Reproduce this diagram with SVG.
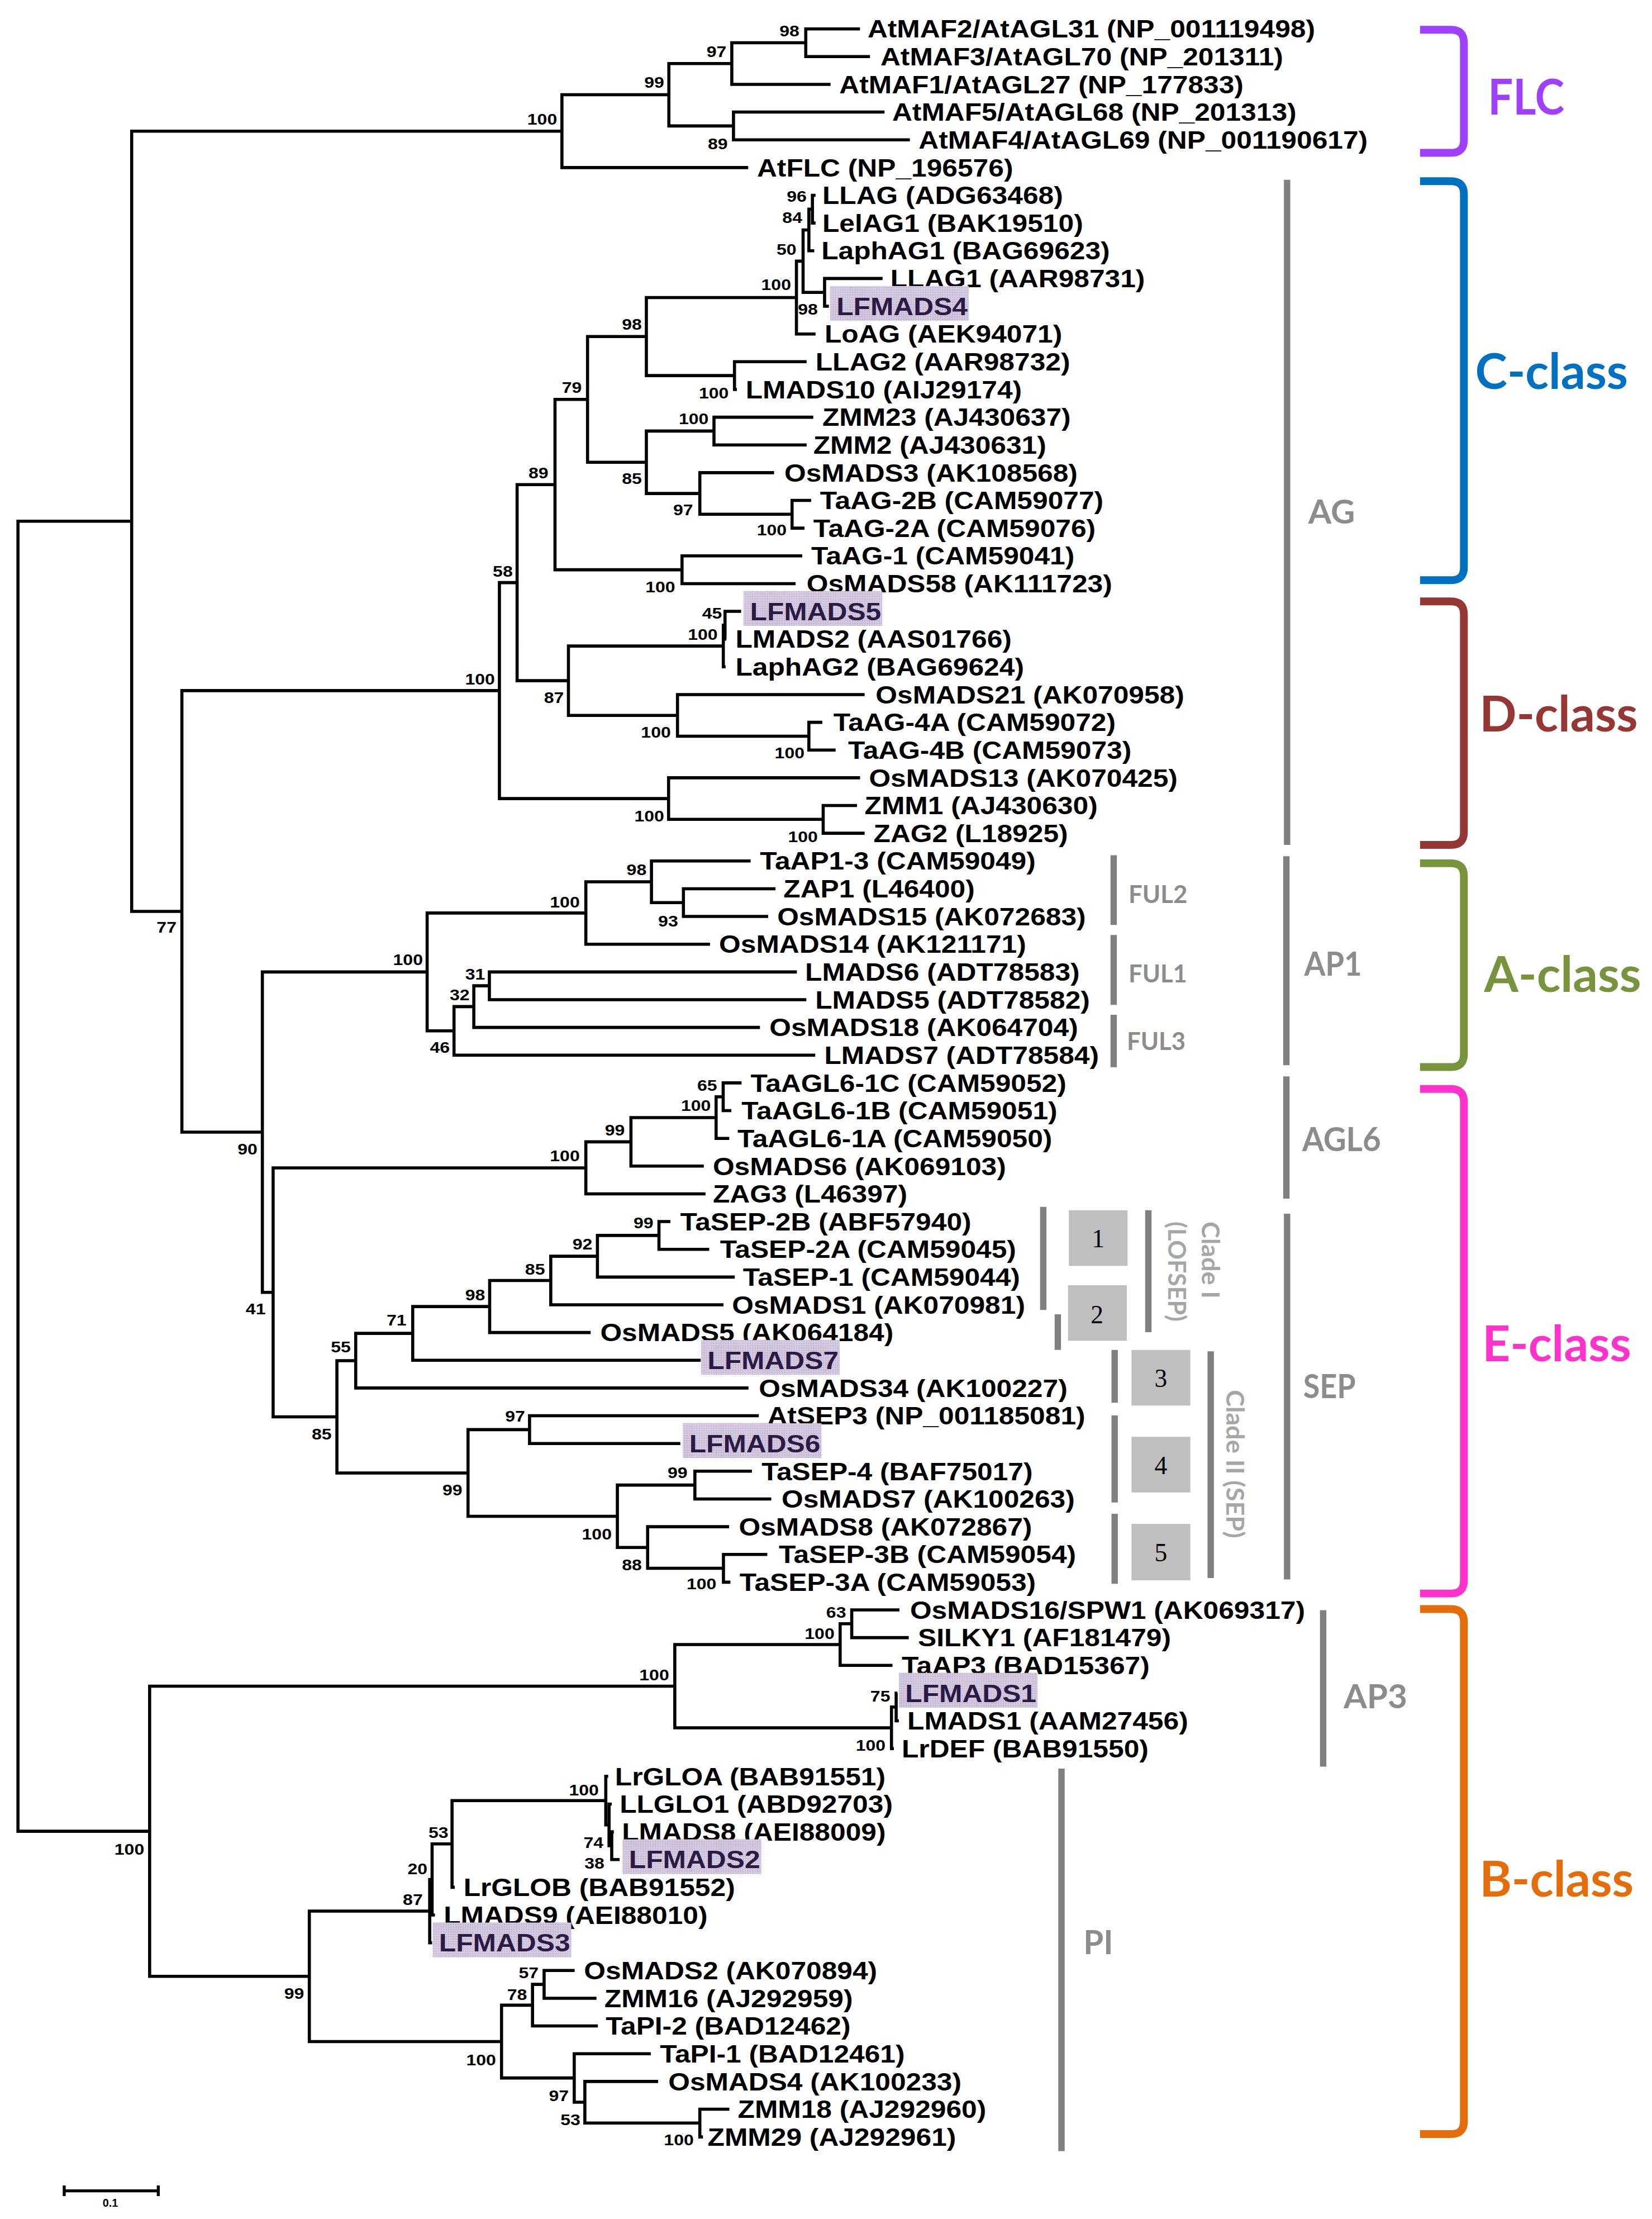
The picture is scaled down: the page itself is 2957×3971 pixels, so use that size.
<svg xmlns="http://www.w3.org/2000/svg" width="2957" height="3971" viewBox="0 0 2957 3971">
<defs>
<pattern id="dots" width="1.2" height="1.2" patternUnits="userSpaceOnUse"><rect width="1.2" height="1.2" fill="#ddd3e8"/><rect width="0.6" height="0.6" fill="#ab9bc0"/></pattern>
</defs>
<style>
.br{fill:none;stroke:#000;stroke-width:2.2;stroke-linejoin:miter;stroke-linecap:butt}
.lf{font-family:"Liberation Sans",Arial,sans-serif;font-weight:bold;font-size:17.3px;fill:#000}
.hl{fill:#2b1a45}
.hb{fill:url(#dots)}
.bs{font-family:"Liberation Sans",Arial,sans-serif;font-weight:bold;font-size:11px;fill:#000;text-anchor:end}
.gbar{stroke:#808080;stroke-width:4.5;fill:none}
.gl{font-family:Lato,"Open Sans",sans-serif;font-weight:bold;fill:#8c8c8c}
.cl{font-family:Lato,"Open Sans",sans-serif;font-weight:bold;fill:#a6a6a6;font-size:17.5px}
.box{fill:#bfbfbf}
.num{font-family:"Liberation Serif","Times New Roman",serif;font-size:18px;fill:#000;text-anchor:middle}
.brk{fill:none;stroke-width:5.5;stroke-linecap:butt}
.cls{font-family:Lato,"Open Sans",sans-serif;font-weight:bold;font-size:35px}
</style>
<g transform="scale(2.53168 2.53253)">
<g id="connectors">
<path class="br" d="M608 20.4H569.7V40H615.1M569.7 30.2H517.4V59.6H587.2M625.4 79.2H518.6V98.8H643.3M517.4 44.9H472.9V89H518.6M472.9 66.95H397.3V118.4H529"/>
<path class="br" d="M576.6 138H574.4V157.6H576.6M574.4 147.8H571.9V177.2H575.7M624 196.8H583V216.4H586M571.9 162.5H567.8V206.6H583M567.8 184.55H563.1V236H576.6M570.3 255.6H519.3V275.2H521M563.1 210.28H457V265.4H519.3M575 294.8H504.8V314.4H570.3M573.5 353.6H560V373.2H568.8M547.3 334H494.8V363.4H560M504.8 304.6H457V348.7H494.8M457 237.84H415.4V326.65H457M567.2 392.8H482.2V412.4H562.5M415.4 282.25H392.4V402.6H482.2"/>
<path class="br" d="M524 432H512.6V451.6H513.5M512.6 441.8H511.4V471.2H513M581.4 510.4H571.9V530H590.8M611.3 490.8H479V520.2H571.9M511.4 456.5H401.9V505.5H479M392.4 342.43H365.6V481H401.9M605.9 569.2H582V588.8H611.3M608.1 549.6H472.7V579H582M365.6 411.7H353.1V564.3H472.7"/>
<path class="br" d="M548.3 628H483.2V647.6H543.1M530.7 608.4H460.6V637.8H483.2M460.6 623.1H414.2V667.2H502M563.4 686.8H346V706.4H570.1M346 696.6H335V726H537.3M335 711.3H321V745.6H576.4M414.2 645.15H302V728.45H321"/>
<path class="br" d="M524.3 765.2H511.3V784.8H517.1M511.3 775H506.3V804.4H515.6M506.3 789.7H446.1V824H497.6M446.1 806.85H414.2V843.6H498.8"/>
<path class="br" d="M474 863.2H465.9V882.8H501.4M465.9 873H422.4V902.4H519.5M422.4 887.7H389.4V922H511.5M389.4 904.85H346.2V941.6H417.6M346.2 923.23H291.8V961.2H495.4M291.8 942.2H251.5V980.8H529.2M536.5 1000.4H374.4V1020H481M531.6 1039.6H491.3V1059.2H545.3M542.5 1098.4H511.5V1118H516.4M515.5 1078.8H457.9V1108.2H511.5M491.3 1049.4H436.5V1093.5H457.9M374.4 1010.2H330.9V1071.45H436.5M251.5 961.5H238.2V1040.83H330.9M414.2 825.23H193.1V1001.17H238.2M302 686.8H185.5V913.2H193.1M353.1 488H128.6V800H185.5M397.3 92.68H93.1V644H128.6"/>
<path class="br" d="M635.9 1137.6H602.2V1157.2H642.5M602.2 1147.4H594V1176.8H631M634.5 1196.4H633.6V1216H635.5M633.6 1206.2H630.3V1235.6H632M594 1162.1H477.1V1220.9H630.3"/>
<path class="br" d="M434 1294.4H432.5V1314H438.1M432.5 1274.8H430.6V1304.2H432.5M430 1255.2H428.3V1289.5H430.6M428.3 1272.35H319.6V1333.6H321.5M319.6 1302.98H305.5V1353.2H307.5M305.5 1328.09H303.8V1372.8H305.5M406.3 1392.4H384.7V1412H421.7M384.7 1402.2H376.5V1431.6H422.7M515.7 1490.4H494.8V1510H497M465.3 1470.8H413.5V1500.2H494.8M460.1 1451.2H406V1485.5H413.5M376.5 1416.9H354.6V1468.35H406M303.8 1350.45H218.7V1442.63H354.6M477.1 1191.5H105.8V1396.54H218.7M93.1 368.34H12.7V1294H105.8"/>
</g>
<g id="support-values">
<text class="bs" transform="translate(393.9 88.2) scale(1.15 1)">100</text>
<text class="bs" transform="translate(469.6 61.9) scale(1.15 1)">99</text>
<text class="bs" transform="translate(513.6 40.2) scale(1.15 1)">97</text>
<text class="bs" transform="translate(565.2 25.7) scale(1.15 1)">98</text>
<text class="bs" transform="translate(514.5 105.3) scale(1.15 1)">89</text>
<text class="bs" transform="translate(570.3 142.6) scale(1.15 1)">96</text>
<text class="bs" transform="translate(567.2 157.7) scale(1.15 1)">84</text>
<text class="bs" transform="translate(563.1 179.9) scale(1.15 1)">50</text>
<text class="bs" transform="translate(559.3 205.1) scale(1.15 1)">100</text>
<text class="bs" transform="translate(578.2 222.2) scale(1.15 1)">98</text>
<text class="bs" transform="translate(453.8 232.9) scale(1.15 1)">98</text>
<text class="bs" transform="translate(515.2 281.6) scale(1.15 1)">100</text>
<text class="bs" transform="translate(411.3 277.6) scale(1.15 1)">79</text>
<text class="bs" transform="translate(501 299.7) scale(1.15 1)">100</text>
<text class="bs" transform="translate(453.8 342) scale(1.15 1)">85</text>
<text class="bs" transform="translate(490 364.2) scale(1.15 1)">97</text>
<text class="bs" transform="translate(556.2 378.3) scale(1.15 1)">100</text>
<text class="bs" transform="translate(387.7 338) scale(1.15 1)">89</text>
<text class="bs" transform="translate(477.4 418.6) scale(1.15 1)">100</text>
<text class="bs" transform="translate(362.5 407.5) scale(1.15 1)">58</text>
<text class="bs" transform="translate(510.5 437) scale(1.15 1)">45</text>
<text class="bs" transform="translate(507.4 452.2) scale(1.15 1)">100</text>
<text class="bs" transform="translate(398.7 496.9) scale(1.15 1)">87</text>
<text class="bs" transform="translate(474.3 521.3) scale(1.15 1)">100</text>
<text class="bs" transform="translate(568.8 535.7) scale(1.15 1)">100</text>
<text class="bs" transform="translate(349.9 483.8) scale(1.15 1)">100</text>
<text class="bs" transform="translate(469.6 580.5) scale(1.15 1)">100</text>
<text class="bs" transform="translate(578.2 595) scale(1.15 1)">100</text>
<text class="bs" transform="translate(124.8 659) scale(1.15 1)">77</text>
<text class="bs" transform="translate(182 815.7) scale(1.15 1)">90</text>
<text class="bs" transform="translate(187.8 928.6) scale(1.15 1)">41</text>
<text class="bs" transform="translate(234.5 1017) scale(1.15 1)">85</text>
<text class="bs" transform="translate(248 955.6) scale(1.15 1)">55</text>
<text class="bs" transform="translate(102 1310.7) scale(1.15 1)">100</text>
<text class="bs" transform="translate(215 1412.3) scale(1.15 1)">99</text>
<text class="bs" transform="translate(409.9 641.3) scale(1.15 1)">100</text>
<text class="bs" transform="translate(457.1 618.4) scale(1.15 1)">98</text>
<text class="bs" transform="translate(479.4 654.5) scale(1.15 1)">93</text>
<text class="bs" transform="translate(299 682) scale(1.15 1)">100</text>
<text class="bs" transform="translate(343 692) scale(1.15 1)">31</text>
<text class="bs" transform="translate(332 707) scale(1.15 1)">32</text>
<text class="bs" transform="translate(318 744) scale(1.15 1)">46</text>
<text class="bs" transform="translate(409.9 820.7) scale(1.15 1)">100</text>
<text class="bs" transform="translate(441.7 802.2) scale(1.15 1)">99</text>
<text class="bs" transform="translate(502.6 785) scale(1.15 1)">100</text>
<text class="bs" transform="translate(507 770.8) scale(1.15 1)">65</text>
<text class="bs" transform="translate(462 868) scale(1.15 1)">99</text>
<text class="bs" transform="translate(418.8 883) scale(1.15 1)">92</text>
<text class="bs" transform="translate(385.3 900.6) scale(1.15 1)">85</text>
<text class="bs" transform="translate(343 918.8) scale(1.15 1)">98</text>
<text class="bs" transform="translate(287.4 936.7) scale(1.15 1)">71</text>
<text class="bs" transform="translate(371.2 1004.6) scale(1.15 1)">97</text>
<text class="bs" transform="translate(486.1 1044.3) scale(1.15 1)">99</text>
<text class="bs" transform="translate(326.9 1056.6) scale(1.15 1)">99</text>
<text class="bs" transform="translate(432.5 1088) scale(1.15 1)">100</text>
<text class="bs" transform="translate(453.8 1109.5) scale(1.15 1)">88</text>
<text class="bs" transform="translate(506.5 1122.8) scale(1.15 1)">100</text>
<text class="bs" transform="translate(473.1 1187.3) scale(1.15 1)">100</text>
<text class="bs" transform="translate(590 1158.3) scale(1.15 1)">100</text>
<text class="bs" transform="translate(598.2 1143.2) scale(1.15 1)">63</text>
<text class="bs" transform="translate(629.4 1202.4) scale(1.15 1)">75</text>
<text class="bs" transform="translate(626.1 1237.3) scale(1.15 1)">100</text>
<text class="bs" transform="translate(423.4 1268.6) scale(1.15 1)">100</text>
<text class="bs" transform="translate(426.6 1306) scale(1.15 1)">74</text>
<text class="bs" transform="translate(427.3 1320.5) scale(1.15 1)">38</text>
<text class="bs" transform="translate(317 1298.8) scale(1.15 1)">53</text>
<text class="bs" transform="translate(302.2 1324.3) scale(1.15 1)">20</text>
<text class="bs" transform="translate(298.9 1346) scale(1.15 1)">87</text>
<text class="bs" transform="translate(380.8 1398) scale(1.15 1)">57</text>
<text class="bs" transform="translate(372.6 1413.1) scale(1.15 1)">78</text>
<text class="bs" transform="translate(350.7 1459.3) scale(1.15 1)">100</text>
<text class="bs" transform="translate(402.1 1484.8) scale(1.15 1)">97</text>
<text class="bs" transform="translate(410.3 1501.8) scale(1.15 1)">53</text>
<text class="bs" transform="translate(490.5 1516) scale(1.15 1)">100</text>
</g>
<g id="leaves">
<g id="leaf-AtMAF2"><text class="lf" transform="translate(613.4 26.6) scale(1.135 1)">AtMAF2/AtAGL31 (NP_001119498)</text></g>
<g id="leaf-AtMAF3"><text class="lf" transform="translate(622.5 46.2) scale(1.135 1)">AtMAF3/AtAGL70 (NP_201311)</text></g>
<g id="leaf-AtMAF1"><text class="lf" transform="translate(593.4 65.8) scale(1.135 1)">AtMAF1/AtAGL27 (NP_177833)</text></g>
<g id="leaf-AtMAF5"><text class="lf" transform="translate(630.8 85.4) scale(1.135 1)">AtMAF5/AtAGL68 (NP_201313)</text></g>
<g id="leaf-AtMAF4"><text class="lf" transform="translate(649.5 105) scale(1.135 1)">AtMAF4/AtAGL69 (NP_001190617)</text></g>
<g id="leaf-AtFLC"><text class="lf" transform="translate(535.2 124.6) scale(1.135 1)">AtFLC (NP_196576)</text></g>
<g id="leaf-LLAG"><text class="lf" transform="translate(581.4 144.2) scale(1.135 1)">LLAG (ADG63468)</text></g>
<g id="leaf-LelAG1"><text class="lf" transform="translate(581.4 163.8) scale(1.135 1)">LelAG1 (BAK19510)</text></g>
<g id="leaf-LaphAG1"><text class="lf" transform="translate(580.7 183.4) scale(1.135 1)">LaphAG1 (BAG69623)</text></g>
<g id="leaf-LLAG1"><text class="lf" transform="translate(629.5 203) scale(1.135 1)">LLAG1 (AAR98731)</text></g>
<g id="leaf-LFMADS4"><rect class="hb" x="586.9" y="202.1" width="98" height="24.5"/><text class="lf hl" transform="translate(591.4 222.6) scale(1.135 1)">LFMADS4</text></g>
<g id="leaf-LoAG"><text class="lf" transform="translate(583 242.2) scale(1.135 1)">LoAG (AEK94071)</text></g>
<g id="leaf-LLAG2"><text class="lf" transform="translate(576.6 261.8) scale(1.135 1)">LLAG2 (AAR98732)</text></g>
<g id="leaf-LMADS10"><text class="lf" transform="translate(527.2 281.4) scale(1.135 1)">LMADS10 (AIJ29174)</text></g>
<g id="leaf-ZMM23"><text class="lf" transform="translate(581.4 301) scale(1.135 1)">ZMM23 (AJ430637)</text></g>
<g id="leaf-ZMM2"><text class="lf" transform="translate(575 320.6) scale(1.135 1)">ZMM2 (AJ430631)</text></g>
<g id="leaf-OsMADS3"><text class="lf" transform="translate(554.6 340.2) scale(1.135 1)">OsMADS3 (AK108568)</text></g>
<g id="leaf-TaAG-2B"><text class="lf" transform="translate(579.8 359.8) scale(1.135 1)">TaAG-2B (CAM59077)</text></g>
<g id="leaf-TaAG-2A"><text class="lf" transform="translate(575 379.4) scale(1.135 1)">TaAG-2A (CAM59076)</text></g>
<g id="leaf-TaAG-1"><text class="lf" transform="translate(573.5 399) scale(1.135 1)">TaAG-1 (CAM59041)</text></g>
<g id="leaf-OsMADS58"><text class="lf" transform="translate(570.3 418.6) scale(1.135 1)">OsMADS58 (AK111723)</text></g>
<g id="leaf-LFMADS5"><rect class="hb" x="525.8" y="417.7" width="98" height="24.5"/><text class="lf hl" transform="translate(530.3 438.2) scale(1.135 1)">LFMADS5</text></g>
<g id="leaf-LMADS2"><text class="lf" transform="translate(520 457.8) scale(1.135 1)">LMADS2 (AAS01766)</text></g>
<g id="leaf-LaphAG2"><text class="lf" transform="translate(520 477.4) scale(1.135 1)">LaphAG2 (BAG69624)</text></g>
<g id="leaf-OsMADS21"><text class="lf" transform="translate(619.1 497) scale(1.135 1)">OsMADS21 (AK070958)</text></g>
<g id="leaf-TaAG-4A"><text class="lf" transform="translate(589.2 516.6) scale(1.135 1)">TaAG-4A (CAM59072)</text></g>
<g id="leaf-TaAG-4B"><text class="lf" transform="translate(599.6 536.2) scale(1.135 1)">TaAG-4B (CAM59073)</text></g>
<g id="leaf-OsMADS13"><text class="lf" transform="translate(614.4 555.8) scale(1.135 1)">OsMADS13 (AK070425)</text></g>
<g id="leaf-ZMM1"><text class="lf" transform="translate(611.3 575.4) scale(1.135 1)">ZMM1 (AJ430630)</text></g>
<g id="leaf-ZAG2"><text class="lf" transform="translate(617.6 595) scale(1.135 1)">ZAG2 (L18925)</text></g>
<g id="leaf-TaAP1-3"><text class="lf" transform="translate(537.3 614.6) scale(1.135 1)">TaAP1-3 (CAM59049)</text></g>
<g id="leaf-ZAP1"><text class="lf" transform="translate(553.9 634.2) scale(1.135 1)">ZAP1 (L46400)</text></g>
<g id="leaf-OsMADS15"><text class="lf" transform="translate(549.5 653.8) scale(1.135 1)">OsMADS15 (AK072683)</text></g>
<g id="leaf-OsMADS14"><text class="lf" transform="translate(508.4 673.4) scale(1.135 1)">OsMADS14 (AK121171)</text></g>
<g id="leaf-LMADS6"><text class="lf" transform="translate(569.2 693) scale(1.135 1)">LMADS6 (ADT78583)</text></g>
<g id="leaf-LMADS5"><text class="lf" transform="translate(576.4 712.6) scale(1.135 1)">LMADS5 (ADT78582)</text></g>
<g id="leaf-OsMADS18"><text class="lf" transform="translate(544 732.2) scale(1.135 1)">OsMADS18 (AK064704)</text></g>
<g id="leaf-LMADS7"><text class="lf" transform="translate(582.8 751.8) scale(1.135 1)">LMADS7 (ADT78584)</text></g>
<g id="leaf-TaAGL6-1C"><text class="lf" transform="translate(530.7 771.4) scale(1.135 1)">TaAGL6-1C (CAM59052)</text></g>
<g id="leaf-TaAGL6-1B"><text class="lf" transform="translate(524.3 791) scale(1.135 1)">TaAGL6-1B (CAM59051)</text></g>
<g id="leaf-TaAGL6-1A"><text class="lf" transform="translate(521.4 810.6) scale(1.135 1)">TaAGL6-1A (CAM59050)</text></g>
<g id="leaf-OsMADS6"><text class="lf" transform="translate(504 830.2) scale(1.135 1)">OsMADS6 (AK069103)</text></g>
<g id="leaf-ZAG3"><text class="lf" transform="translate(504 849.8) scale(1.135 1)">ZAG3 (L46397)</text></g>
<g id="leaf-TaSEP-2B"><text class="lf" transform="translate(480.9 869.4) scale(1.135 1)">TaSEP-2B (ABF57940)</text></g>
<g id="leaf-TaSEP-2A"><text class="lf" transform="translate(509 889) scale(1.135 1)">TaSEP-2A (CAM59045)</text></g>
<g id="leaf-TaSEP-1"><text class="lf" transform="translate(525.2 908.6) scale(1.135 1)">TaSEP-1 (CAM59044)</text></g>
<g id="leaf-OsMADS1"><text class="lf" transform="translate(517.5 928.2) scale(1.135 1)">OsMADS1 (AK070981)</text></g>
<g id="leaf-OsMADS5"><text class="lf" transform="translate(424.4 947.8) scale(1.135 1)">OsMADS5 (AK064184)</text></g>
<g id="leaf-LFMADS7"><rect class="hb" x="495.7" y="946.9" width="98" height="24.5"/><text class="lf hl" transform="translate(500.2 967.4) scale(1.135 1)">LFMADS7</text></g>
<g id="leaf-OsMADS34"><text class="lf" transform="translate(536.5 987) scale(1.135 1)">OsMADS34 (AK100227)</text></g>
<g id="leaf-AtSEP3"><text class="lf" transform="translate(542.5 1006.6) scale(1.135 1)">AtSEP3 (NP_001185081)</text></g>
<g id="leaf-LFMADS6"><rect class="hb" x="482.8" y="1005.7" width="98" height="24.5"/><text class="lf hl" transform="translate(487.3 1026.2) scale(1.135 1)">LFMADS6</text></g>
<g id="leaf-TaSEP-4"><text class="lf" transform="translate(538.5 1045.8) scale(1.135 1)">TaSEP-4 (BAF75017)</text></g>
<g id="leaf-OsMADS7"><text class="lf" transform="translate(552.6 1065.4) scale(1.135 1)">OsMADS7 (AK100263)</text></g>
<g id="leaf-OsMADS8"><text class="lf" transform="translate(522.4 1085) scale(1.135 1)">OsMADS8 (AK072867)</text></g>
<g id="leaf-TaSEP-3B"><text class="lf" transform="translate(550.6 1104.6) scale(1.135 1)">TaSEP-3B (CAM59054)</text></g>
<g id="leaf-TaSEP-3A"><text class="lf" transform="translate(522.9 1124.2) scale(1.135 1)">TaSEP-3A (CAM59053)</text></g>
<g id="leaf-OsMADS16"><text class="lf" transform="translate(643.4 1143.8) scale(1.135 1)">OsMADS16/SPW1 (AK069317)</text></g>
<g id="leaf-SILKY1"><text class="lf" transform="translate(649 1163.4) scale(1.135 1)">SILKY1 (AF181479)</text></g>
<g id="leaf-TaAP3"><text class="lf" transform="translate(637.5 1183) scale(1.135 1)">TaAP3 (BAD15367)</text></g>
<g id="leaf-LFMADS1"><rect class="hb" x="635.5" y="1182.1" width="98" height="24.5"/><text class="lf hl" transform="translate(640 1202.6) scale(1.135 1)">LFMADS1</text></g>
<g id="leaf-LMADS1"><text class="lf" transform="translate(641.5 1222.2) scale(1.135 1)">LMADS1 (AAM27456)</text></g>
<g id="leaf-LrDEF"><text class="lf" transform="translate(637.5 1241.8) scale(1.135 1)">LrDEF (BAB91550)</text></g>
<g id="leaf-LrGLOA"><text class="lf" transform="translate(434.8 1261.4) scale(1.135 1)">LrGLOA (BAB91551)</text></g>
<g id="leaf-LLGLO1"><text class="lf" transform="translate(438.1 1281) scale(1.135 1)">LLGLO1 (ABD92703)</text></g>
<g id="leaf-LMADS8"><text class="lf" transform="translate(439.7 1300.6) scale(1.135 1)">LMADS8 (AEI88009)</text></g>
<g id="leaf-LFMADS2"><rect class="hb" x="440.2" y="1299.7" width="98" height="24.5"/><text class="lf hl" transform="translate(444.7 1320.2) scale(1.135 1)">LFMADS2</text></g>
<g id="leaf-LrGLOB"><text class="lf" transform="translate(327.7 1339.8) scale(1.135 1)">LrGLOB (BAB91552)</text></g>
<g id="leaf-LMADS9"><text class="lf" transform="translate(313.7 1359.4) scale(1.135 1)">LMADS9 (AEI88010)</text></g>
<g id="leaf-LFMADS3"><rect class="hb" x="305.9" y="1358.5" width="98" height="24.5"/><text class="lf hl" transform="translate(310.4 1379) scale(1.135 1)">LFMADS3</text></g>
<g id="leaf-OsMADS2"><text class="lf" transform="translate(412.9 1398.6) scale(1.135 1)">OsMADS2 (AK070894)</text></g>
<g id="leaf-ZMM16"><text class="lf" transform="translate(427.3 1418.2) scale(1.135 1)">ZMM16 (AJ292959)</text></g>
<g id="leaf-TaPI-2"><text class="lf" transform="translate(428.3 1437.8) scale(1.135 1)">TaPI-2 (BAD12462)</text></g>
<g id="leaf-TaPI-1"><text class="lf" transform="translate(466.6 1457.4) scale(1.135 1)">TaPI-1 (BAD12461)</text></g>
<g id="leaf-OsMADS4"><text class="lf" transform="translate(472.5 1477) scale(1.135 1)">OsMADS4 (AK100233)</text></g>
<g id="leaf-ZMM18"><text class="lf" transform="translate(521.6 1496.6) scale(1.135 1)">ZMM18 (AJ292960)</text></g>
<g id="leaf-ZMM29"><text class="lf" transform="translate(500.3 1516.2) scale(1.135 1)">ZMM29 (AJ292961)</text></g>
</g>
<g id="subgroups">
<path class="gbar" d="M910 127V597M909.5 605V752.7M909.5 760.6V847M910 857.6V1116.1M787.4 604.3V653.6M787.4 660.7V710.1M787.4 717.1V754.1M737.6 852.8V925.7M747.9 928.7V953.9M811.9 855.2V941.4M788.1 953.9V991.2M788.1 1000.2V1061.7M788.1 1069.7V1119.1M856 954.9V1115.1M935.5 1137.8V1248.4M750.5 1249.7V1520"/>
<text class="gl" x="925" y="370" font-size="23.3" textLength="33" lengthAdjust="spacingAndGlyphs">AG</text>
<text class="gl" x="922.1" y="689.3" font-size="23.3" textLength="40.8" lengthAdjust="spacingAndGlyphs">AP1</text>
<text class="gl" x="920.6" y="813.5" font-size="23.3" textLength="55.7" lengthAdjust="spacingAndGlyphs">AGL6</text>
<text class="gl" x="921.4" y="988.1" font-size="23.3" textLength="37.1" lengthAdjust="spacingAndGlyphs">SEP</text>
<text class="gl" x="950" y="1207" font-size="23.3" textLength="45" lengthAdjust="spacingAndGlyphs">AP3</text>
<text class="gl" x="766" y="1381" font-size="23.3" textLength="21" lengthAdjust="spacingAndGlyphs">PI</text>
<text class="gl" x="797.9" y="638.1" font-size="17.5" textLength="41.6" lengthAdjust="spacingAndGlyphs">FUL2</text>
<text class="gl" x="797.9" y="694.2" font-size="17.5" textLength="41.4" lengthAdjust="spacingAndGlyphs">FUL1</text>
<text class="gl" x="796.7" y="741.8" font-size="17.5" textLength="41.5" lengthAdjust="spacingAndGlyphs">FUL3</text>
<rect class="box" x="755.7" y="855.2" width="41.5" height="39.3"/>
<rect class="box" x="755.1" y="908.2" width="41.6" height="39.2"/>
<rect class="box" x="800" y="953.9" width="41.6" height="39.3"/>
<rect class="box" x="800" y="1015.3" width="41.6" height="39.3"/>
<rect class="box" x="800" y="1076.8" width="41.6" height="39.9"/>
<text class="num" x="776.4" y="881.5">1</text>
<text class="num" x="775.6" y="934.9">2</text>
<text class="num" x="820.8" y="980.2">3</text>
<text class="num" x="820.8" y="1041.7">4</text>
<text class="num" x="820.8" y="1103.2">5</text>
<text class="cl" transform="translate(849.5 863.2) rotate(90)" textLength="54.4" lengthAdjust="spacingAndGlyphs">Clade I</text>
<text class="cl" transform="translate(826 863.2) rotate(90)" textLength="70.6" lengthAdjust="spacingAndGlyphs">(LOFSEP)</text>
<text class="cl" transform="translate(867 982.1) rotate(90)" textLength="104.8" lengthAdjust="spacingAndGlyphs">Clade II (SEP)</text>
</g>
<g id="classes">
<path class="brk" stroke="#a040ff" d="M1004 21H1026Q1035 21 1035 30V99Q1035 108 1026 108H1004"/>
<path class="brk" stroke="#0070c0" d="M1004 128H1026Q1035 128 1035 137V401Q1035 410 1026 410H1004"/>
<path class="brk" stroke="#953735" d="M1004 425H1026Q1035 425 1035 434V588Q1035 597 1026 597H1004"/>
<path class="brk" stroke="#77933c" d="M1004 610H1026Q1035 610 1035 619V745Q1035 754 1026 754H1004"/>
<path class="brk" stroke="#ff33cc" d="M1004 769.5H1026Q1035 769.5 1035 778.5V1117Q1035 1126 1026 1126H1004"/>
<path class="brk" stroke="#e46c0a" d="M1004 1137H1026Q1035 1137 1035 1146V1499Q1035 1508 1026 1508H1004"/>
<text class="cls" fill="#a040ff" x="1052" y="81" textLength="54" lengthAdjust="spacingAndGlyphs">FLC</text>
<text class="cls" fill="#0070c0" x="1043" y="275" textLength="108" lengthAdjust="spacingAndGlyphs">C-class</text>
<text class="cls" fill="#953735" x="1046" y="517" textLength="112" lengthAdjust="spacingAndGlyphs">D-class</text>
<text class="cls" fill="#77933c" x="1049.3" y="700.7" textLength="111" lengthAdjust="spacingAndGlyphs">A-class</text>
<text class="cls" fill="#ff33cc" x="1048" y="962" textLength="105.3" lengthAdjust="spacingAndGlyphs">E-class</text>
<text class="cls" fill="#e46c0a" x="1046" y="1340" textLength="109" lengthAdjust="spacingAndGlyphs">B-class</text>
</g>
<g id="scale-bar">
<path d="M45.4 1548.1H111.9M45.4 1544.3V1551.8M111.9 1544.3V1551.8" stroke="#000" stroke-width="2.1" fill="none"/>
<text x="78" y="1559.4" font-family="Liberation Sans, Arial, sans-serif" font-weight="bold" font-size="7.8" text-anchor="middle">0.1</text>
</g>
</g>
</svg>
